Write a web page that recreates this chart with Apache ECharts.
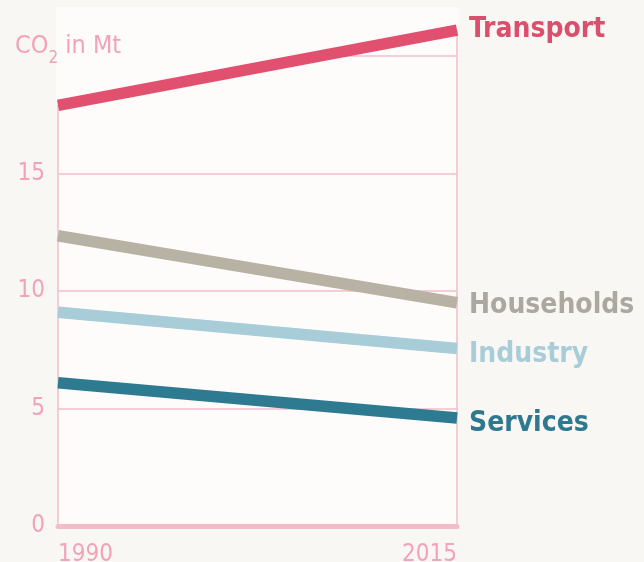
<!DOCTYPE html>
<html>
<head>
<meta charset="utf-8">
<script src="https://cdn.jsdelivr.net/npm/echarts@6/dist/echarts.min.js"></script>
<style>
  html, body { margin: 0; padding: 0; background: #f9f7f3; }
  #chart { width: 644px; height: 562px; }
</style>
</head>
<body>
<div id="chart"></div>
<script>
// CO2 emissions by sector, 1990 vs 2015 (Mt)
const years = ['1990', '2015'];
const transport = [17.9, 21.1];
const households = [12.35, 9.5];
const industry = [9.1, 7.55];
const services = [6.1, 4.6];
const yTickLabels = [0, 5, 10, 15];
const yMax = 22;

const pink = '#f3bccb';
const pinkText = '#f1a3b7';
const plotBg = '#fdfcfa';
const labelFont = 'DejaVu Sans Condensed';

function sector(name, data, color, labelColor, dy) {
  return {
    name: name,
    type: 'line',
    data: data,
    z: 5,
    symbol: 'none',
    silent: true,
    lineStyle: { color: color, width: 11.5, cap: 'butt' },
    endLabel: {
      show: true,
      formatter: '{a}',
      color: labelColor,
      fontFamily: labelFont,
      fontWeight: 'bold',
      fontSize: 28,
      distance: 12,
      offset: [0, dy]
    }
  };
}

const chart = echarts.init(document.getElementById('chart'), null, { renderer: 'canvas' });
chart.setOption({
  backgroundColor: '#f9f7f3',
  animation: false,
  title: {
    text: 'CO{sub|2} in Mt',
    left: 15,
    top: 34,
    padding: 0,
    textStyle: {
      color: pinkText,
      fontFamily: labelFont,
      fontSize: 25,
      fontWeight: 'normal',
      rich: {
        sub: { fontSize: 17, color: pinkText, fontFamily: labelFont, verticalAlign: 'bottom', padding: [0, 0, -8, 0] }
      }
    }
  },
  grid: {
    left: 58, right: 187, top: 9, bottom: 36,
    outerBoundsMode: 'none',
    show: true, backgroundColor: plotBg, borderWidth: 0
  },
  xAxis: {
    type: 'category',
    data: years,
    boundaryGap: false,
    axisLine: { show: true, lineStyle: { color: pink, width: 5 } },
    axisTick: { show: false },
    splitLine: { show: true, lineStyle: { color: pink, width: 1.5 } },
    axisLabel: {
      color: pinkText, fontFamily: labelFont, fontSize: 24, margin: 17,
      alignMinLabel: 'left', alignMaxLabel: 'right'
    }
  },
  yAxis: {
    type: 'value',
    min: 0, max: yMax, interval: 5,
    axisLine: { show: false },
    axisTick: { show: false },
    splitLine: { show: true, lineStyle: { color: pink, width: 1.5 } },
    axisLabel: {
      color: pinkText, fontFamily: labelFont, fontSize: 24, margin: 13,
      padding: [4, 0, 0, 0],
      formatter: function (v) { return yTickLabels.indexOf(v) >= 0 ? String(v) : ''; }
    }
  },
  series: [
    // plain paper above the transport line hides the grid there
    {
      type: 'custom',
      silent: true,
      z: 4,
      data: [0],
      renderItem: function (params, api) {
        const a = api.coord([0, transport[0]]);
        const b = api.coord([1, transport[1]]);
        const c = api.coord([1, yMax]);
        const d = api.coord([0, yMax]);
        return {
          type: 'polygon',
          shape: { points: [[a[0] - 2, a[1]], [b[0] + 2, b[1]], [c[0] + 2, c[1] - 2], [d[0] - 2, d[1] - 2]] },
          style: { fill: plotBg }
        };
      }
    },
    sector('Transport', transport, '#e2506f', '#d9506e', 0),
    sector('Households', households, '#b7b2a3', '#aba99f', 3),
    sector('Industry', industry, '#a8cdd8', '#a9cdd8', 6),
    sector('Services', services, '#2d7a91', '#2e7990', 6)
  ]
});
</script>
</body>
</html>
